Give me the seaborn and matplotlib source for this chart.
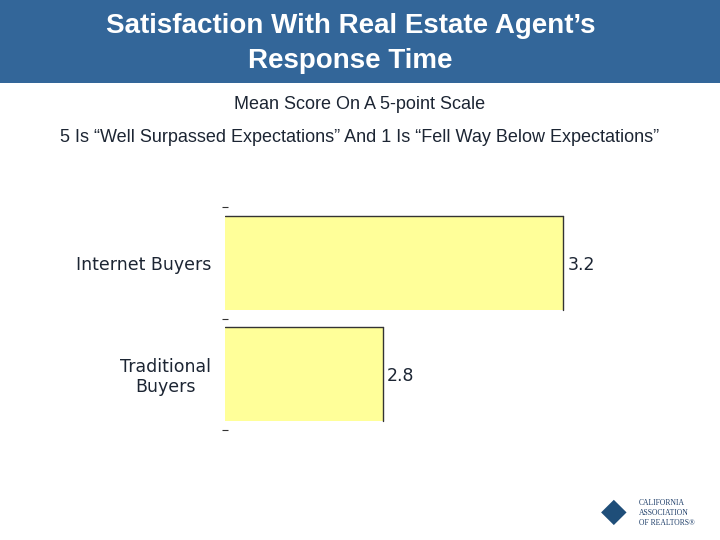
import matplotlib
matplotlib.use("Agg")
import matplotlib.pyplot as plt
import seaborn as sns
import pandas as pd

# chart data
categories = ["Internet Buyers", "Traditional\nBuyers"]
scores = [3.2, 2.8]
value_labels = ["3.2", "2.8"]

title = "Satisfaction With Real Estate Agent\u2019s\nResponse Time"
subtitle_1 = "Mean Score On A 5-point Scale"
subtitle_2 = "5 Is \u201cWell Surpassed Expectations\u201d And 1 Is \u201cFell Way Below Expectations\u201d"

sns.set_theme(style="white")
plt.rcParams["font.family"] = ["Liberation Sans", "DejaVu Sans"]

BLUE = "#336699"
BAR = "#FFFF99"
DARK = "#1c2533"

df = pd.DataFrame({"group": categories, "score": scores})

fig = plt.figure(figsize=(7.2, 5.4), dpi=100)

# title banner
banner = fig.add_axes([0, 1 - 83 / 540, 1, 83 / 540])
banner.set_facecolor(BLUE)
banner.set_xticks([])
banner.set_yticks([])
for s in banner.spines.values():
    s.set_visible(False)
banner.text(0.487, 0.48, title, ha="center", va="center", color="white",
            fontsize=20, fontweight="bold", linespacing=1.45,
            transform=banner.transAxes)

fig.text(0.5, 1 - 104 / 540, subtitle_1, ha="center", va="center",
         fontsize=13, color=DARK)
fig.text(0.5, 1 - 137 / 540, subtitle_2, ha="center", va="center",
         fontsize=13, color=DARK)

ax = fig.add_axes([225 / 720, 1 - 430 / 540, 455 / 720, 223 / 540])
sns.barplot(data=df, x="score", y="group", orient="h", color=BAR,
            saturation=1, width=0.84, edgecolor="none", ax=ax)
ax.set_xlim(2.45, 3.46)

# outline only the top and right side of each bar
for p, lab in zip(ax.patches, value_labels):
    y_top = p.get_y()
    y_bot = p.get_y() + p.get_height()
    x_end = p.get_x() + p.get_width()
    ax.plot([ax.get_xlim()[0], x_end], [y_top, y_top], color="#333333", lw=1)
    ax.plot([x_end, x_end], [y_top, y_bot], color="#333333", lw=1)
    ax.text(x_end + 0.01, (y_top + y_bot) / 2 + 0.02, lab, ha="left", va="center",
            fontsize=12.5, color=DARK, family=["DejaVu Sans"])

ax.set_xlabel("")
ax.set_ylabel("")
ax.set_xticks([])
for s in ax.spines.values():
    s.set_visible(False)

# category boundary dashes as major ticks, labels as minor ticks
n = len(categories)
ax.set_yticks([i - 0.5 for i in range(n + 1)])
ax.set_yticklabels([])
ax.tick_params(axis="y", which="major", left=True, direction="inout",
               length=5, width=0.8, color="#333333")
ax.set_yticks(range(n), minor=True)
ax.set_yticklabels(categories, minor=True, fontsize=12.5, color=DARK,
                   multialignment="center", family=["DejaVu Sans"],
                   linespacing=1.1)
ax.tick_params(axis="y", which="minor", length=0, pad=10)
ax.set_ylim(n - 0.5, -0.5)

# association logo
fig.text(614 / 720, 1 - 512 / 540, "\u25c6", ha="center", va="center",
         fontsize=24, color="#1f4e79")
fig.text(639 / 720, 1 - 513 / 540, "CALIFORNIA\nASSOCIATION\nOF REALTORS\u00ae",
         ha="left", va="center", fontsize=5.5, color="#1f3f6a",
         family=["Liberation Serif", "DejaVu Serif"], linespacing=1.3)

fig.savefig("out.png", dpi=100)
